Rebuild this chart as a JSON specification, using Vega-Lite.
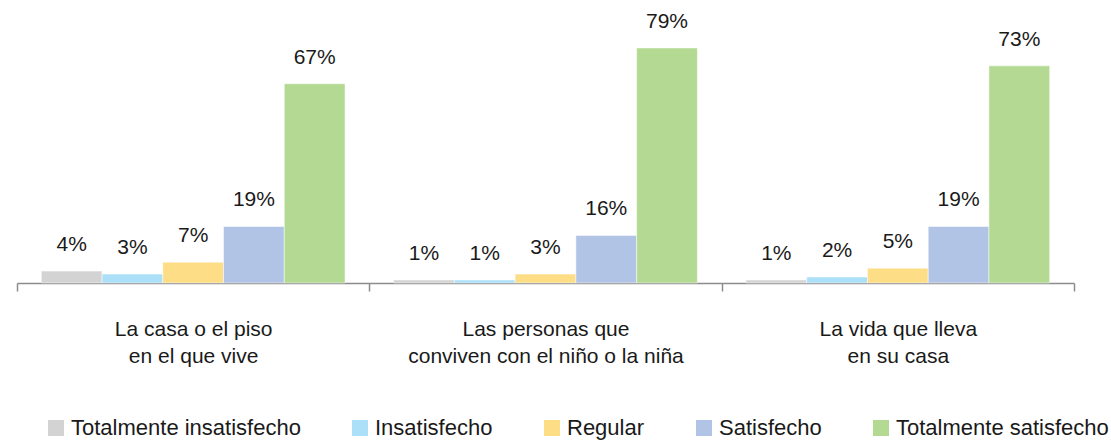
{
  "$schema": "https://vega.github.io/schema/vega-lite/v6.json",
  "width": 1057,
  "height": 238,
  "autosize": {"type": "none"},
  "padding": {"left": 17, "top": 45, "right": 37, "bottom": 157},
  "background": "white",
  "config": {
    "view": {"stroke": null},
    "font": "Liberation Sans",
    "text": {"font": "Liberation Sans", "color": "#1a1a1a"}
  },
  "data": {
    "values": [
      {"cat": "La casa o el piso|en el que vive", "resp": "Totalmente insatisfecho", "value": 0.04},
      {"cat": "La casa o el piso|en el que vive", "resp": "Insatisfecho", "value": 0.03},
      {"cat": "La casa o el piso|en el que vive", "resp": "Regular", "value": 0.07},
      {"cat": "La casa o el piso|en el que vive", "resp": "Satisfecho", "value": 0.19},
      {"cat": "La casa o el piso|en el que vive", "resp": "Totalmente satisfecho", "value": 0.67},
      {"cat": "Las personas que|conviven con el niño o la niña", "resp": "Totalmente insatisfecho", "value": 0.01},
      {"cat": "Las personas que|conviven con el niño o la niña", "resp": "Insatisfecho", "value": 0.01},
      {"cat": "Las personas que|conviven con el niño o la niña", "resp": "Regular", "value": 0.03},
      {"cat": "Las personas que|conviven con el niño o la niña", "resp": "Satisfecho", "value": 0.16},
      {"cat": "Las personas que|conviven con el niño o la niña", "resp": "Totalmente satisfecho", "value": 0.79},
      {"cat": "La vida que lleva|en su casa", "resp": "Totalmente insatisfecho", "value": 0.01},
      {"cat": "La vida que lleva|en su casa", "resp": "Insatisfecho", "value": 0.02},
      {"cat": "La vida que lleva|en su casa", "resp": "Regular", "value": 0.05},
      {"cat": "La vida que lleva|en su casa", "resp": "Satisfecho", "value": 0.19},
      {"cat": "La vida que lleva|en su casa", "resp": "Totalmente satisfecho", "value": 0.73}
    ]
  },
  "encoding": {
    "x": {
      "field": "cat",
      "type": "nominal",
      "sort": null,
      "scale": {"paddingInner": 0, "paddingOuter": 0},
      "axis": {
        "title": null,
        "labelAngle": 0,
        "labelExpr": "datum.value ? split(datum.value, '|') : ''",
        "labelFont": "Liberation Sans",
        "labelFontSize": 21,
        "labelColor": "#1a1a1a",
        "labelLineHeight": 27,
        "labelPadding": 27,
        "labelBaseline": "top",
        "labelLimit": 500,
        "tickBand": "extent",
        "tickSize": 8,
        "tickColor": "#8c8c8c",
        "tickWidth": 1.5,
        "domainColor": "#8c8c8c",
        "domainWidth": 1.5
      }
    },
    "xOffset": {
      "field": "resp",
      "type": "nominal",
      "sort": ["Totalmente insatisfecho", "Insatisfecho", "Regular", "Satisfecho", "Totalmente satisfecho"],
      "scale": {"paddingInner": 0, "paddingOuter": 0.4}
    },
    "y": {
      "field": "value",
      "type": "quantitative",
      "scale": {"domain": [0, 0.8]},
      "axis": null
    }
  },
  "layer": [
    {
      "mark": {"type": "bar", "stroke": "white", "strokeWidth": 0.5},
      "encoding": {
        "color": {
          "field": "resp",
          "type": "nominal",
          "sort": ["Totalmente insatisfecho", "Insatisfecho", "Regular", "Satisfecho", "Totalmente satisfecho"],
          "scale": {
            "domain": ["Totalmente insatisfecho", "Insatisfecho", "Regular", "Satisfecho", "Totalmente satisfecho"],
            "range": ["#d3d3d4", "#abe0f8", "#fddd86", "#b1c4e6", "#b4d993"]
          },
          "legend": {
            "title": null,
            "orient": "none",
            "direction": "horizontal",
            "legendX": 28,
            "legendY": 372,
            "symbolType": "square",
            "symbolSize": 256,
            "symbolStrokeWidth": 0,
            "labelFont": "Liberation Sans",
            "labelFontSize": 22,
            "labelColor": "#1a1a1a",
            "labelOffset": 4,
            "columnPadding": 48,
            "labelLimit": 400
          }
        }
      }
    },
    {
      "mark": {"type": "text", "fontSize": 21, "baseline": "alphabetic", "dy": -20, "color": "#1a1a1a"},
      "encoding": {
        "text": {"field": "value", "type": "quantitative", "format": ".0%"}
      }
    }
  ]
}
